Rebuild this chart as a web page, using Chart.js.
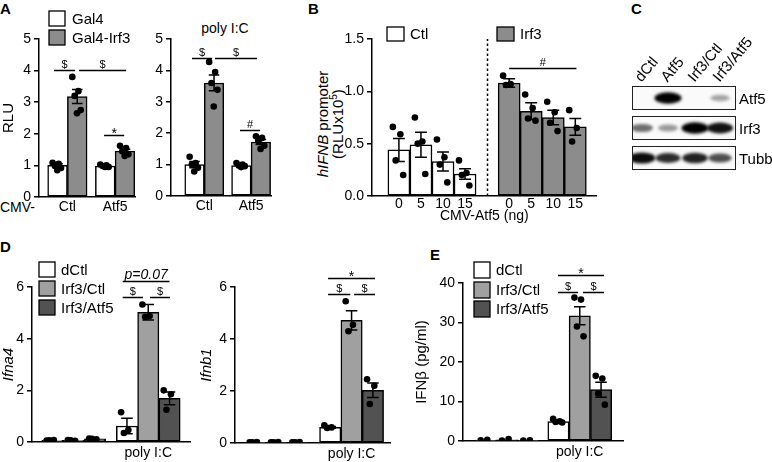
<!DOCTYPE html>
<html><head><meta charset="utf-8">
<script src="https://cdn.jsdelivr.net/npm/chart.js@4.4.1/dist/chart.umd.min.js"></script>
<style>
html,body{margin:0;padding:0;background:#fff;}
body{width:772px;height:462px;position:relative;overflow:hidden;font-family:'Liberation Sans',Arial,Helvetica,sans-serif;color:#000;}
canvas{position:absolute;}
.t{position:absolute;white-space:nowrap;line-height:1;font-size:14px;}
.L{font-weight:bold;font-size:15px;}
.c{transform:translate(-50%,-50%);}
.rot{transform:translate(-50%,-50%) rotate(-90deg);text-align:center;line-height:15px;font-size:15px;}
.lane{transform-origin:0 100%;transform:rotate(-50deg);font-size:15px;}
</style></head><body>

<div class="t L" style="left:0px;top:1px">A</div>
<div class="t L" style="left:308px;top:1px">B</div>
<div class="t L" style="left:631px;top:1px">C</div>
<div class="t L" style="left:0px;top:239px">D</div>
<div class="t L" style="left:430px;top:247px">E</div>

<div class="t" style="left:0px;top:200px;width:31px;text-align:right">CMV-</div>
<div class="t c" style="left:225px;top:28px">poly I:C</div>
<div class="t rot" style="left:330px;top:124px"><i>hIFNB</i> promoter<br>(RLUx10<sup style="font-size:10px;line-height:0">5</sup>)</div>

<script>
// ---------------- DATA ----------------
// Panel A (RLU), groups and series
const A_groups = ['Ctl', 'Atf5'];
const A_series = ['Gal4', 'Gal4-Irf3'];
const A1_gal4 = [1.00, 0.98];
const A1_gal4_err = [0.05, 0.03];
const A1_gal4_dots = [[1.08, 1.05, 0.98, 0.92, 0.85], [1.03, 1.00, 0.98, 0.95, 0.95]];
const A1_irf3 = [3.18, 1.45];
const A1_irf3_err = [0.22, 0.06];
const A1_irf3_dots = [[3.80, 3.35, 3.20, 2.75, 2.65], [1.62, 1.55, 1.45, 1.35, 1.30]];
const A2_title = 'poly I:C';
const A2_gal4 = [1.00, 0.97];
const A2_gal4_err = [0.10, 0.03];
const A2_gal4_dots = [[1.25, 1.05, 1.00, 0.90, 0.78], [1.05, 1.00, 0.97, 0.95, 0.92]];
const A2_irf3 = [3.60, 1.72];
const A2_irf3_err = [0.25, 0.08];
const A2_irf3_dots = [[4.27, 3.95, 3.60, 3.38, 2.85], [1.90, 1.85, 1.75, 1.60, 1.50]];

// Panel B (hIFNB promoter, RLUx10^5)
const B_doses = ['0', '5', '10', '15'];
const B_series = ['Ctl', 'Irf3'];
const B_ctl = [0.44, 0.49, 0.33, 0.21];
const B_ctl_err = [0.11, 0.12, 0.09, 0.05];
const B_ctl_dots = [[0.66, 0.59, 0.34, 0.20], [0.75, 0.52, 0.50, 0.21], [0.54, 0.37, 0.30, 0.13], [0.34, 0.22, 0.20, 0.10]];
const B_irf3 = [1.08, 0.81, 0.75, 0.66];
const B_irf3_err = [0.04, 0.08, 0.07, 0.08];
const B_irf3_dots = [[1.15, 1.07, 1.06], [0.97, 0.84, 0.74, 0.72], [0.90, 0.80, 0.70, 0.62], [0.82, 0.65, 0.52]];

// Panel C (western blot, relative band intensity)
const C_lanes = ['dCtl', 'Atf5', 'Irf3/Ctl', 'Irf3/Atf5'];
const C_rows = ['Atf5', 'Irf3', 'Tubb'];
const C_bands = [[0, 1, 0, 0.25], [0.5, 0.3, 1, 0.92], [0.95, 0.8, 0.85, 0.65]];

// Panels D/E: [unstimulated, poly I:C]
const DE_series = ['dCtl', 'Irf3/Ctl', 'Irf3/Atf5'];
const DE_group = 'poly I:C';
const D1_dctl = [0.06, 0.62], D1_dctl_err = [0, 0.30];
const D1_dctl_dots = [[0.06, 0.08, 0.07], [1.15, 0.46, 0.35]];
const D1_ctl = [0.06, 5.02], D1_ctl_err = [0, 0.30];
const D1_ctl_dots = [[0.08, 0.05, 0.07], [5.32, 4.88, 4.85]];
const D1_atf5 = [0.12, 1.69], D1_atf5_err = [0, 0.25];
const D1_atf5_dots = [[0.13, 0.10, 0.12], [2.00, 1.85, 1.25]];

const D2_dctl = [0.03, 0.60], D2_dctl_err = [0, 0.03];
const D2_dctl_dots = [[0.03, 0.04, 0.03], [0.68, 0.60, 0.58]];
const D2_ctl = [0.03, 4.72], D2_ctl_err = [0, 0.37];
const D2_ctl_dots = [[0.03, 0.04, 0.03], [5.45, 4.55, 4.30]];
const D2_atf5 = [0.03, 2.03], D2_atf5_err = [0, 0.28];
const D2_atf5_dots = [[0.03, 0.04, 0.03], [2.45, 2.20, 1.50]];

const E_dctl = [0.25, 4.9], E_dctl_err = [0, 0.2];
const E_dctl_dots = [[0.2, 0.3], [5.6, 5.0, 4.8, 4.7]];
const E_ctl = [0.3, 31.7], E_ctl_err = [0, 2.3];
const E_ctl_dots = [[0.1, 0.5], [36.3, 35.8, 29.0, 26.5]];
const E_atf5 = [0.15, 13.0], E_atf5_err = [0, 1.9];
const E_atf5_dots = [[0.1, 0.2], [16.5, 15.8, 12.0, 9.2]];

// ---------------- STYLE / LIBRARY SETUP ----------------
const FF = "'Liberation Sans', Arial, Helvetica, sans-serif";
Chart.defaults.font.family = FF;
Chart.defaults.color = '#000';
Chart.defaults.animation = false;
const WHITE = '#ffffff', GRAY = '#8c8c8c', MID = '#a0a0a0', DARK = '#525252';

const errPlugin = {
  id: 'errbars',
  afterDatasetDraw(chart, args) {
    const ds = chart.data.datasets[args.index];
    if (!ds.err) return;
    const ctx = chart.ctx, y = chart.scales.y;
    ctx.save(); ctx.strokeStyle = '#000'; ctx.lineWidth = 1.5;
    args.meta.data.forEach((el, i) => {
      const v = ds.data[i].y, e = ds.err[i];
      if (!e) return;
      const t = y.getPixelForValue(v + e), b = y.getPixelForValue(Math.max(v - e, 0));
      const hw = el.width * 0.27;
      ctx.beginPath();
      ctx.moveTo(el.x, t); ctx.lineTo(el.x, b);
      ctx.moveTo(el.x - hw, t); ctx.lineTo(el.x + hw, t);
      ctx.moveTo(el.x - hw, b); ctx.lineTo(el.x + hw, b);
      ctx.stroke();
    });
    ctx.restore();
  }
};
const annPlugin = {
  id: 'annot',
  afterDraw(chart) {
    const g = chart.canvas._g; if (!g) return;
    const ctx = chart.ctx, x = chart.scales.x, y = chart.scales.y;
    ctx.save();
    if (g.divider !== undefined) {
      const px = Math.round(x.getPixelForValue(g.divider)) + 0.5;
      ctx.setLineDash([2.5, 2.5]); ctx.lineWidth = 1.5; ctx.strokeStyle = '#000';
      ctx.beginPath(); ctx.moveTo(px, y.getPixelForValue(y.min)); ctx.lineTo(px, y.getPixelForValue(y.max)); ctx.stroke();
      ctx.setLineDash([]);
    }
    (g.sig || []).forEach(s => {
      const a = x.getPixelForValue(s.x1), b = x.getPixelForValue(s.x2);
      const py = Math.round(y.getPixelForValue(s.y)) + 0.5;
      ctx.strokeStyle = '#000'; ctx.lineWidth = 1.5;
      ctx.beginPath(); ctx.moveTo(a, py); ctx.lineTo(b, py); ctx.stroke();
      ctx.fillStyle = '#000';
      ctx.font = (s.italic ? 'italic ' : '') + (s.size || 11) + 'px ' + FF;
      ctx.textAlign = 'center'; ctx.textBaseline = 'alphabetic';
      ctx.fillText(s.t, (a + b) / 2, py - (s.gap === undefined ? 3 : s.gap));
    });
    if (g.legend) {
      const L = g.legend;
      const bars = chart.data.datasets.filter(d => d.type === 'bar');
      ctx.font = L.size + 'px ' + FF; ctx.textBaseline = 'middle'; ctx.textAlign = 'left';
      bars.forEach((d, i) => {
        const bx = L.at[i][0] - g.left, by = L.at[i][1] - g.top;
        ctx.fillStyle = d.backgroundColor; ctx.fillRect(bx, by, L.w, L.h);
        ctx.strokeStyle = '#000'; ctx.lineWidth = 1.3; ctx.strokeRect(bx, by, L.w, L.h);
        ctx.fillStyle = '#000'; ctx.fillText(d.label, bx + L.w + L.gap, by + L.h / 2 + 1);
      });
    }
    ctx.restore();
  }
};
Chart.register(errPlugin, annPlugin);

function build(g) {
  const c = document.createElement('canvas');
  c.width = g.w; c.height = g.h;
  Object.assign(c.style, {left: g.left + 'px', top: g.top + 'px', width: g.w + 'px', height: g.h + 'px'});
  document.body.appendChild(c);
  c._g = g;
  const datasets = [];
  g.series.forEach(s => {
    const pts = [];
    s.dots.forEach((arr, i) => arr.forEach((v, j) => {
      const n = arr.length;
      const off = n > 1 ? (((j * 0.618) % 1) - 0.5) * g.spread : 0;
      pts.push({x: s.pos[i] + off, y: v});
    }));
    datasets.push({type: 'scatter', label: s.label + ' points', data: pts, pointRadius: 3.3, pointHoverRadius: 3.3,
      backgroundColor: '#000', borderColor: '#000', borderWidth: 0, order: 0});
  });
  g.series.forEach(s => datasets.push({type: 'bar', label: s.label,
    data: s.vals.map((v, i) => ({x: s.pos[i], y: v})), err: s.err,
    backgroundColor: s.color, borderColor: '#000', borderWidth: 1.5, borderSkipped: false,
    grouped: false, categoryPercentage: 1, barPercentage: 1, order: 1}));
  new Chart(c, {
    type: 'bar',
    data: {datasets},
    options: {
      responsive: false, animation: false, devicePixelRatio: 1,
      layout: {padding: {top: g.pt, right: g.pr, left: 0, bottom: 0}},
      plugins: {legend: {display: false}, tooltip: {enabled: false}},
      scales: {
        x: {
          type: 'linear', min: g.xmin, max: g.xmax, offset: false,
          grid: {display: false, drawTicks: false},
          border: {display: true, color: '#000', width: 1.5},
          ticks: {autoSkip: false, maxRotation: 0, font: {size: 14}, padding: g.xpad,
            callback: (v, i) => (g.ticks[i] ? g.ticks[i].t : '')},
          afterBuildTicks: s => { s.ticks = g.ticks.map(t => ({value: t.v})); },
          afterFit: s => { s.height = g.hx; },
          title: g.xtitle ? {display: true, text: g.xtitle, font: {size: 14}, padding: {top: 0, bottom: g.xtpad}} : {display: false}
        },
        y: {
          type: 'linear', min: g.ymin, max: g.ymax,
          ticks: {stepSize: g.ystep, font: {size: 14}, padding: 3, callback: g.yfmt || (v => v)},
          grid: {display: true, drawOnChartArea: false, drawTicks: true, tickLength: 5, color: '#000', lineWidth: 1.5},
          border: {display: true, color: '#000', width: 1.5},
          afterFit: s => { s.width = g.wy; },
          title: g.ytitle ? {display: true, text: g.ytitle, font: {size: 15, style: g.yitalic ? 'italic' : 'normal'},
            padding: {top: g.ytpad || 0, bottom: 0}} : {display: false}
        }
      }
    }
  });
}

// ---------------- PANEL A ----------------
build({left: 0, top: 0, w: 140, h: 225, wy: 39, pt: 39, pr: 5, hx: 28, xpad: 2,
  xmin: -0.94, xmax: 3.93, ymin: 0, ymax: 5, ystep: 1, ytitle: 'RLU', spread: 0.5,
  ticks: [{v: 0.5, t: A_groups[0]}, {v: 2.92, t: A_groups[1]}],
  series: [
    {label: A_series[0], color: WHITE, pos: [0, 2.42], vals: A1_gal4, err: A1_gal4_err, dots: A1_gal4_dots},
    {label: A_series[1], color: GRAY, pos: [1, 3.42], vals: A1_irf3, err: A1_irf3_err, dots: A1_irf3_dots}],
  legend: {at: [[49, 11], [49, 30]], w: 16, h: 15, gap: 7, size: 15},
  sig: [{x1: -0.18, x2: 0.89, y: 4.02, t: '$'}, {x1: 1.09, x2: 3.48, y: 4.02, t: '$'},
        {x1: 2.36, x2: 3.38, y: 1.96, t: '*', size: 14, gap: -2}]
});
build({left: 145, top: 0, w: 130, h: 225, wy: 26, pt: 39, pr: 4, hx: 29, xpad: 2,
  xmin: -1.205, xmax: 3.92, ymin: 0, ymax: 5, ystep: 1, spread: 0.5,
  ticks: [{v: 0.5, t: A_groups[0]}, {v: 2.9, t: A_groups[1]}],
  series: [
    {label: A_series[0], color: WHITE, pos: [0, 2.4], vals: A2_gal4, err: A2_gal4_err, dots: A2_gal4_dots},
    {label: A_series[1], color: GRAY, pos: [1, 3.4], vals: A2_irf3, err: A2_irf3_err, dots: A2_irf3_dots}],
  sig: [{x1: -0.13, x2: 0.9, y: 4.39, t: '$'}, {x1: 1.05, x2: 3.2, y: 4.39, t: '$'},
        {x1: 2.33, x2: 3.36, y: 2.1, t: '#'}]
});

// ---------------- PANEL B ----------------
build({left: 300, top: 0, w: 300, h: 235, wy: 72, pt: 39, pr: 2, hx: 39, xpad: 0, xtpad: 10,
  xmin: -1.22, xmax: 8.97, ymin: 0, ymax: 1.5, ystep: 0.5, yfmt: v => v.toFixed(1), spread: 0.55,
  xtitle: 'CMV-Atf5 (ng)',
  ticks: [0, 1, 2, 3, 5, 6, 7, 8].map((v, i) => ({v, t: B_doses[i % 4]})),
  series: [
    {label: B_series[0], color: WHITE, pos: [0, 1, 2, 3], vals: B_ctl, err: B_ctl_err, dots: B_ctl_dots},
    {label: B_series[1], color: GRAY, pos: [5, 6, 7, 8], vals: B_irf3, err: B_irf3_err, dots: B_irf3_dots}],
  legend: {at: [[387, 27], [497, 27]], w: 17, h: 14, gap: 6, size: 15},
  divider: 4,
  sig: [{x1: 5, x2: 8.05, y: 1.22, t: '#'}]
});

// ---------------- PANEL D ----------------
build({left: 0, top: 240, w: 195, h: 222, wy: 32, pt: 47, pr: 5, hx: 20, xpad: 3,
  xmin: -0.96, xmax: 6.46, ymin: 0, ymax: 6, ystep: 2, ytitle: 'Ifna4', yitalic: true, spread: 0.55,
  ticks: [{v: 4.5, t: DE_group}],
  series: [
    {label: DE_series[0], color: WHITE, pos: [0, 3.5], vals: D1_dctl, err: D1_dctl_err, dots: D1_dctl_dots},
    {label: DE_series[1], color: MID, pos: [1, 4.5], vals: D1_ctl, err: D1_ctl_err, dots: D1_ctl_dots},
    {label: DE_series[2], color: DARK, pos: [2, 5.5], vals: D1_atf5, err: D1_atf5_err, dots: D1_atf5_dots}],
  legend: {at: [[39, 262], [39, 281], [39, 300]], w: 16, h: 15, gap: 6, size: 15},
  sig: [{x1: 3.3, x2: 5.5, y: 6.23, t: 'p=0.07', italic: true, size: 14},
        {x1: 3.3, x2: 4.25, y: 5.6, t: '$'}, {x1: 4.58, x2: 5.52, y: 5.6, t: '$'}]
});
build({left: 195, top: 240, w: 200, h: 222, wy: 40, pt: 47, pr: 5, hx: 19, xpad: 3,
  xmin: -0.96, xmax: 6.3, ymin: 0, ymax: 6, ystep: 2, ytitle: 'Ifnb1', yitalic: true, ytpad: 3, spread: 0.55,
  ticks: [{v: 4.5, t: DE_group}],
  series: [
    {label: DE_series[0], color: WHITE, pos: [0, 3.5], vals: D2_dctl, err: D2_dctl_err, dots: D2_dctl_dots},
    {label: DE_series[1], color: MID, pos: [1, 4.5], vals: D2_ctl, err: D2_ctl_err, dots: D2_ctl_dots},
    {label: DE_series[2], color: DARK, pos: [2, 5.5], vals: D2_atf5, err: D2_atf5_err, dots: D2_atf5_dots}],
  sig: [{x1: 3.4, x2: 5.6, y: 6.35, t: '*', size: 14, gap: -2},
        {x1: 3.4, x2: 4.44, y: 5.73, t: '$'}, {x1: 4.62, x2: 5.6, y: 5.73, t: '$'}]
});

// ---------------- PANEL E ----------------
build({left: 410, top: 240, w: 218, h: 222, wy: 53, pt: 43, pr: 5, hx: 21, xpad: 3,
  xmin: -1.08, xmax: 6.43, ymin: 0, ymax: 40, ystep: 10, ytitle: 'IFNβ (pg/ml)', ytpad: 3, spread: 0.5,
  ticks: [{v: 4.4, t: DE_group}],
  series: [
    {label: DE_series[0], color: WHITE, pos: [0, 3.4], vals: E_dctl, err: E_dctl_err, dots: E_dctl_dots},
    {label: DE_series[1], color: MID, pos: [1, 4.4], vals: E_ctl, err: E_ctl_err, dots: E_ctl_dots},
    {label: DE_series[2], color: DARK, pos: [2, 5.4], vals: E_atf5, err: E_atf5_err, dots: E_atf5_dots}],
  legend: {at: [[474, 262], [474, 282], [474, 301]], w: 16, h: 16, gap: 6, size: 15},
  sig: [{x1: 3.38, x2: 5.54, y: 42, t: '*', size: 14, gap: -2},
        {x1: 3.38, x2: 4.32, y: 37.7, t: '$'}, {x1: 4.55, x2: 5.54, y: 37.7, t: '$'}]
});

// ---------------- PANEL C (blot) ----------------
(function () {
  const laneX = [642, 668, 695, 720];
  const rowY = [86, 116, 146];
  const bx0 = 632, bx1 = 736, bh = 24;
  const cv = document.createElement('canvas');
  cv.width = 140; cv.height = 180;
  const ox = 620, oy = 0;
  Object.assign(cv.style, {left: ox + 'px', top: oy + 'px', width: '140px', height: '180px'});
  document.body.appendChild(cv);
  const ctx = cv.getContext('2d');
  C_rows.forEach((r, ri) => {
    const top = rowY[ri] - oy;
    ctx.fillStyle = '#fafafa';
    ctx.fillRect(bx0 - ox, top, bx1 - bx0, bh);
    ctx.save();
    ctx.beginPath(); ctx.rect(bx0 - ox, top, bx1 - bx0, bh); ctx.clip();
    ctx.filter = 'blur(1.5px)';
    C_bands[ri].forEach((I, li) => {
      if (!I) return;
      ctx.fillStyle = 'rgba(0,0,0,' + (0.12 + 0.88 * I) + ')';
      ctx.beginPath();
      ctx.ellipse(laneX[li] - ox, top + bh / 2, 8.5 + 5 * I, 2.5 + 3.2 * I, 0, 0, Math.PI * 2);
      ctx.fill();
    });
    ctx.restore();
    ctx.strokeStyle = '#222'; ctx.lineWidth = 1;
    ctx.strokeRect(bx0 - ox + 0.5, top + 0.5, bx1 - bx0 - 1, bh - 1);
    const d = document.createElement('div');
    d.className = 't';
    d.textContent = r;
    Object.assign(d.style, {left: '739px', top: (rowY[ri] + bh / 2 - 7) + 'px', fontSize: '15px'});
    document.body.appendChild(d);
  });
  C_lanes.forEach((l, li) => {
    const d = document.createElement('div');
    d.className = 't lane';
    d.textContent = l;
    Object.assign(d.style, {left: (laneX[li] + 1) + 'px', top: (84 - 15) + 'px'});
    document.body.appendChild(d);
  });
})();
</script>
</body></html>
